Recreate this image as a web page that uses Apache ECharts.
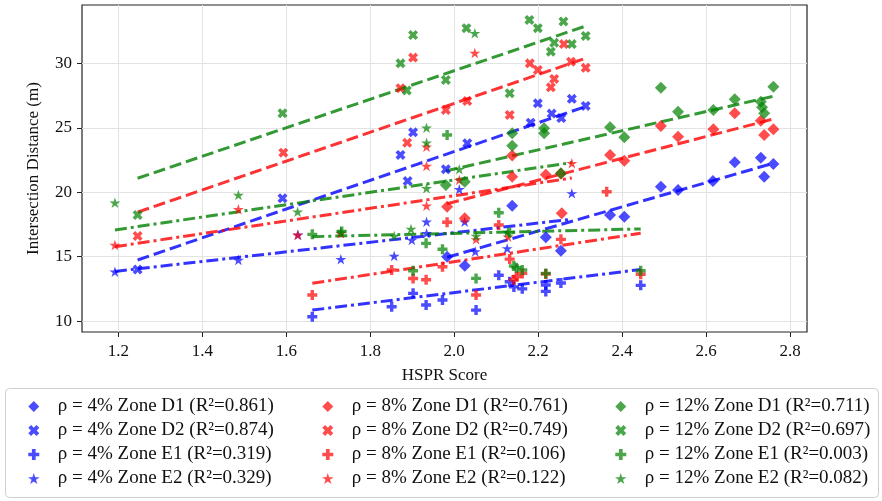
<!DOCTYPE html>
<html>
<head>
<meta charset="utf-8">
<script src="https://cdn.jsdelivr.net/npm/echarts@6/dist/echarts.min.js"></script>
<style>
html,body{margin:0;padding:0;background:#fff;}
#chart{width:882px;height:501px;}
</style>
</head>
<body>
<div id="chart"></div>
<script>
// ---- tick labels ----
const xTicks = [1.2, 1.4, 1.6, 1.8, 2.0, 2.2, 2.4, 2.6, 2.8];
const yTicks = [10, 15, 20, 25, 30];

// ---- scatter data [HSPR, distance] ----
const rho4_D1 = [[1.983,14.99],[2.025,14.29],[2.138,18.95],[2.218,16.50],[2.254,15.46],[2.371,18.23],[2.405,18.10],[2.492,20.43],[2.533,20.17],[2.616,20.87],[2.668,22.32],[2.730,22.68],[2.738,21.20],[2.760,22.19]];
const rho4_D2 = [[1.246,14.0],[1.591,19.53],[1.872,22.89],[1.889,20.87],[1.902,24.65],[1.980,21.78],[2.031,23.80],[2.182,25.40],[2.199,26.90],[2.232,26.1],[2.255,25.75],[2.280,27.25],[2.313,26.70]];
const rho4_E1 = [[1.662,10.33],[1.851,11.11],[1.902,12.15],[1.933,11.24],[1.972,11.63],[2.052,10.85],[2.106,13.55],[2.132,13.05],[2.142,12.65],[2.162,12.5],[2.218,12.8],[2.218,12.3],[2.254,12.95],[2.444,12.77]];
const rho4_E2 = [[1.192,13.83],[1.486,14.74],[1.628,16.7],[1.730,14.79],[1.857,15.05],[1.899,16.29],[1.934,17.71],[1.934,16.81],[2.012,20.23],[2.025,17.71],[2.050,15.4],[2.126,15.64],[2.280,19.91]];

const rho8_D1 = [[1.983,18.87],[2.025,17.97],[2.138,21.2],[2.138,22.85],[2.218,21.35],[2.254,21.45],[2.256,18.36],[2.371,22.89],[2.405,22.45],[2.492,25.14],[2.533,24.31],[2.617,24.88],[2.668,26.13],[2.730,25.55],[2.738,24.44],[2.760,24.88]];
const rho8_D2 = [[1.246,16.6],[1.593,23.07],[1.872,28.07],[1.888,23.84],[1.902,30.45],[1.980,26.38],[2.031,27.08],[2.132,26.0],[2.180,30.0],[2.199,29.49],[2.230,28.14],[2.238,28.79],[2.261,31.5],[2.278,30.13],[2.313,29.65]];
const rho8_E1 = [[1.662,12.02],[1.851,13.96],[1.902,13.3],[1.933,13.2],[1.972,14.22],[1.983,17.67],[2.052,12.02],[2.106,17.45],[2.132,14.81],[2.142,13.2],[2.148,13.45],[2.162,13.7],[2.218,13.65],[2.254,16.34],[2.363,20.04],[2.444,13.63]];
const rho8_E2 = [[1.192,15.9],[1.486,18.67],[1.627,16.68],[1.730,16.81],[1.934,23.53],[1.934,22.03],[1.934,18.95],[2.012,20.95],[2.049,30.8],[2.052,16.34],[2.128,16.55],[2.280,22.24]];

const rho12_D1 = [[1.980,20.56],[2.025,20.82],[2.138,24.57],[2.138,23.61],[2.214,24.96],[2.214,24.57],[2.254,21.47],[2.371,25.04],[2.405,24.26],[2.492,28.11],[2.533,26.25],[2.617,26.38],[2.668,27.21],[2.730,27.03],[2.733,26.6],[2.738,26.13],[2.760,28.19]];
const rho12_D2 = [[1.246,18.23],[1.591,26.13],[1.872,30.0],[1.887,27.9],[1.902,32.2],[1.980,28.71],[2.029,32.73],[2.132,27.68],[2.179,33.37],[2.199,32.73],[2.230,30.91],[2.238,31.6],[2.260,33.25],[2.280,31.5],[2.313,32.13]];
const rho12_E1 = [[1.662,16.73],[1.732,16.95],[1.902,13.9],[1.933,16.03],[1.972,15.57],[1.983,24.44],[2.052,13.31],[2.106,18.41],[2.132,16.86],[2.142,14.27],[2.148,14.14],[2.162,13.96],[2.218,13.7],[2.444,13.9]];
const rho12_E2 = [[1.192,19.18],[1.486,19.78],[1.627,18.49],[1.730,16.93],[1.857,16.6],[1.897,17.15],[1.934,25.0],[1.934,23.84],[1.934,20.3],[2.012,21.78],[2.049,32.34],[2.052,16.6],[2.127,16.9]];

// ---- fitted trend lines (endpoints) ----
const fit4_D1 = [[1.983,14.95],[2.760,22.25]];
const fit4_D2 = [[1.246,14.74],[2.313,26.65]];
const fit4_E1 = [[1.662,10.85],[2.444,14.0]];
const fit4_E2 = [[1.192,13.85],[2.280,17.9]];
const fit8_D1 = [[1.983,19.1],[2.760,25.68]];
const fit8_D2 = [[1.246,18.45],[2.313,30.4]];
const fit8_E1 = [[1.662,12.93],[2.444,16.81]];
const fit8_E2 = [[1.192,15.77],[2.280,21.1]];
const fit12_D1 = [[1.980,21.65],[2.760,27.45]];
const fit12_D2 = [[1.246,21.08],[2.313,32.9]];
const fit12_E1 = [[1.662,16.55],[2.444,17.15]];
const fit12_E2 = [[1.192,17.07],[2.280,22.3]];

// ---- legend labels ----
const labels4 = ['ρ = 4% Zone D1 (R²=0.861)','ρ = 4% Zone D2 (R²=0.874)','ρ = 4% Zone E1 (R²=0.319)','ρ = 4% Zone E2 (R²=0.329)'];
const labels8 = ['ρ = 8% Zone D1 (R²=0.761)','ρ = 8% Zone D2 (R²=0.749)','ρ = 8% Zone E1 (R²=0.106)','ρ = 8% Zone E2 (R²=0.122)'];
const labels12 = ['ρ = 12% Zone D1 (R²=0.711)','ρ = 12% Zone D2 (R²=0.697)','ρ = 12% Zone E1 (R²=0.003)','ρ = 12% Zone E2 (R²=0.082)'];

const SYM_DIAMOND = 'path://M0,-1L1,0L0,1L-1,0Z';
const SYM_X = 'path://M0,2.6L2.6,0L5,2.4L7.4,0L10,2.6L7.6,5L10,7.4L7.4,10L5,7.6L2.6,10L0,7.4L2.4,5Z';
const SYM_P = 'path://M3.3,0H6.7V3.3H10V6.7H6.7V10H3.3V6.7H0V3.3H3.3Z';
const SYM_STAR = 'path://M0,-1L0.224,-0.308L0.951,-0.309L0.362,0.118L0.588,0.809L0,0.381L-0.588,0.809L-0.362,0.118L-0.951,-0.309L-0.224,-0.308Z';

const symbols = [SYM_DIAMOND, SYM_X, SYM_P, SYM_STAR];
const symSizes = [12, 10, 10, 11];
const lineTypes = [[12,5],[12,5],[12,4,3,4],[12,4,3,4]];

const groups = [
  {color:'#0000ff', data:[rho4_D1,rho4_D2,rho4_E1,rho4_E2], fits:[fit4_D1,fit4_D2,fit4_E1,fit4_E2], labels:labels4},
  {color:'#ff0000', data:[rho8_D1,rho8_D2,rho8_E1,rho8_E2], fits:[fit8_D1,fit8_D2,fit8_E1,fit8_E2], labels:labels8},
  {color:'#008000', data:[rho12_D1,rho12_D2,rho12_E1,rho12_E2], fits:[fit12_D1,fit12_D2,fit12_E1,fit12_E2], labels:labels12}
];

const series = [];
groups.forEach(g => {
  for (let k = 0; k < 4; k++) {
    series.push({
      name: g.labels[k],
      type: 'scatter',
      data: g.data[k],
      symbol: symbols[k],
      symbolSize: symSizes[k],
      symbolKeepAspect: true,
      itemStyle: {color: g.color, opacity: 0.7},
      emphasis: {disabled: true},
      z: 3
    });
    series.push({
      name: 'fit ' + g.labels[k],
      type: 'line',
      data: g.fits[k],
      showSymbol: false,
      symbol: 'none',
      lineStyle: {color: g.color, width: 3, opacity: 0.8, type: lineTypes[k], cap: 'butt'},
      itemStyle: {color: g.color},
      emphasis: {disabled: true},
      silent: true,
      z: 2
    });
  }
});

const FONT = 'Liberation Serif';
const legendBase = {
  orient: 'vertical',
  top: 392,
  itemGap: 5,
  itemWidth: 38,
  itemHeight: 11,
  selectedMode: false,
  textStyle: {fontFamily: FONT, fontSize: 19, color: '#111'}
};

const option = {
  animation: false,
  backgroundColor: '#fff',
  textStyle: {fontFamily: FONT},
  grid: {left: 82, right: 75, top: 5, bottom: 169, show: true, borderColor: '#222', borderWidth: 1.2, backgroundColor: 'transparent'},
  xAxis: {
    type: 'value', min: 1.1136, max: 2.84,
    name: 'HSPR Score', nameLocation: 'middle', nameGap: 35,
    nameTextStyle: {fontFamily: FONT, fontSize: 17, color: '#111'},
    axisLine: {show: false},
    axisTick: {show: true, inside: false, length: 5, customValues: xTicks, lineStyle: {color: '#222', width: 1}},
    axisLabel: {customValues: xTicks, margin: 11, fontFamily: FONT, fontSize: 17, color: '#111', formatter: v => v.toFixed(1)},
    splitLine: {show: true, lineStyle: {color: '#e3e3e3', width: 1}}
  },
  yAxis: {
    type: 'value', min: 9.15, max: 34.53,
    name: 'Intersection Distance (m)', nameLocation: 'middle', nameGap: 40,
    nameTextStyle: {fontFamily: FONT, fontSize: 17, color: '#111'},
    axisLine: {show: false},
    axisTick: {show: true, inside: false, length: 5, customValues: yTicks, lineStyle: {color: '#222', width: 1}},
    axisLabel: {customValues: yTicks, margin: 10, fontFamily: FONT, fontSize: 17, color: '#111'},
    splitLine: {show: true, lineStyle: {color: '#e3e3e3', width: 1}}
  },
  legend: [
    Object.assign({}, legendBase, {left: 23, data: labels4}),
    Object.assign({}, legendBase, {left: 317, data: labels8}),
    Object.assign({}, legendBase, {left: 610, data: labels12})
  ],
  graphic: [{
    type: 'rect', left: 5, top: 388, shape: {width: 873, height: 109, r: 4},
    style: {fill: '#fff', stroke: '#cfcfcf', lineWidth: 1}, z: -1, silent: true
  }],
  series: series
};

const chart = echarts.init(document.getElementById('chart'), null, {renderer: 'canvas'});
chart.setOption(option);
</script>
</body>
</html>
